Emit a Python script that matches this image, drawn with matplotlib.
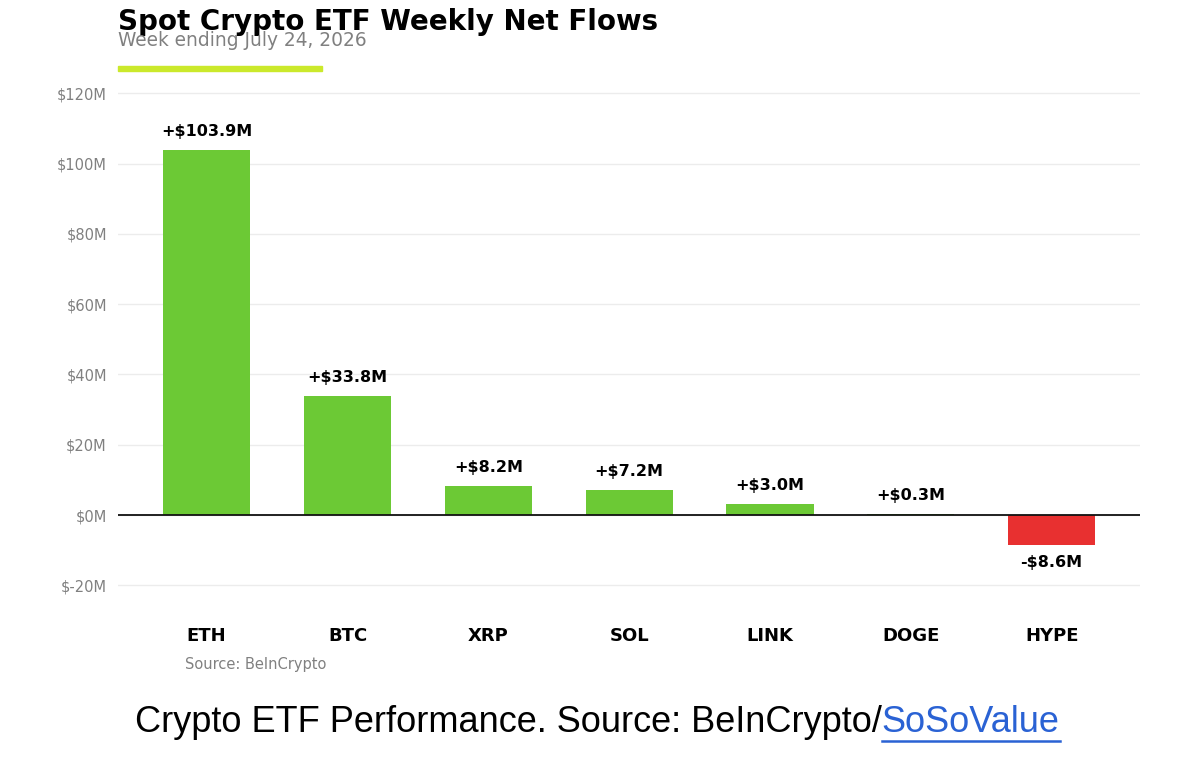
import matplotlib.pyplot as plt
import matplotlib.patches as mpatches
import numpy as np

# data (millions USD)
tickers = ["ETH", "BTC", "XRP", "SOL", "LINK", "DOGE", "HYPE"]
flows = [103.9, 33.8, 8.2, 7.2, 3.0, 0.3, -8.6]
yticks = [-20, 0, 20, 40, 60, 80, 100, 120]

green = "#6cc935"
red = "#e83030"
lime = "#cbe92b"

fig = plt.figure(figsize=(12, 7.66), dpi=100)
ax = fig.add_axes([0.0983, 0.2175, 0.852, 0.67])

x = np.arange(len(tickers))
colors = [green if v >= 0 else red for v in flows]
ax.bar(x, flows, width=0.62, color=colors, zorder=3)

# value labels
for xi, v in zip(x, flows):
    if v >= 0:
        ax.annotate(f"+${v:.1f}M", (xi, v), xytext=(0, 8), textcoords="offset points",
                    ha="center", va="bottom", fontsize=11.5, fontweight="bold")
    else:
        ax.annotate(f"-${abs(v):.1f}M", (xi, v), xytext=(0, -7), textcoords="offset points",
                    ha="center", va="top", fontsize=11.5, fontweight="bold")

ax.axhline(0, color="#111111", linewidth=1.3, zorder=4)
ax.set_ylim(-24, 122)
ax.set_xlim(-0.63, 6.63)
ax.set_yticks(yticks)
ax.set_yticklabels([f"${t}M" for t in yticks], fontsize=10.5, color="#808080")
ax.set_xticks(x)
ax.set_xticklabels(tickers, fontsize=13, fontweight="bold")
ax.tick_params(axis="both", length=0)
ax.tick_params(axis="x", pad=20)
ax.tick_params(axis="y", pad=8)
ax.grid(axis="y", color="#ececec", linewidth=1, zorder=0)
for s in ax.spines.values():
    s.set_visible(False)

# title block (the subtitle overlaps the title in the original too)
fig.text(118 / 1200, 1 - 22 / 766, "Spot Crypto ETF Weekly Net Flows", fontsize=20,
         fontweight="bold", va="center", ha="left")
fig.text(118 / 1200, 1 - 41 / 766, "Week ending July 24, 2026", fontsize=13.4,
         color="#808080", va="center", ha="left")
fig.patches.append(mpatches.Rectangle((118 / 1200, 1 - 71 / 766), 204 / 1200, 5 / 766,
                                      transform=fig.transFigure, color=lime))

fig.text(185 / 1200, 1 - 665 / 766, "Source: BeInCrypto", fontsize=10.5,
         color="#808080", va="center", ha="left")

# caption under the chart
cap = fig.text(135 / 1200, 1 - 722 / 766, "Crypto ETF Performance. Source: BeInCrypto/",
               fontsize=26, family="Liberation Sans", va="center", ha="left")
fig.canvas.draw()
bb = cap.get_window_extent()
link_x = bb.x1 / fig.bbox.width
link = fig.text(link_x, 1 - 722 / 766, "SoSoValue", fontsize=26, family="Liberation Sans",
                color="#2a62d4", va="center", ha="left")
lb = link.get_window_extent()
fig.add_artist(plt.Line2D([lb.x0 / fig.bbox.width, lb.x1 / fig.bbox.width],
                          [(lb.y0 - 1) / fig.bbox.height] * 2,
                          transform=fig.transFigure, color="#2a62d4", linewidth=1.8))

fig.savefig("out.png", dpi=100, facecolor="white")
